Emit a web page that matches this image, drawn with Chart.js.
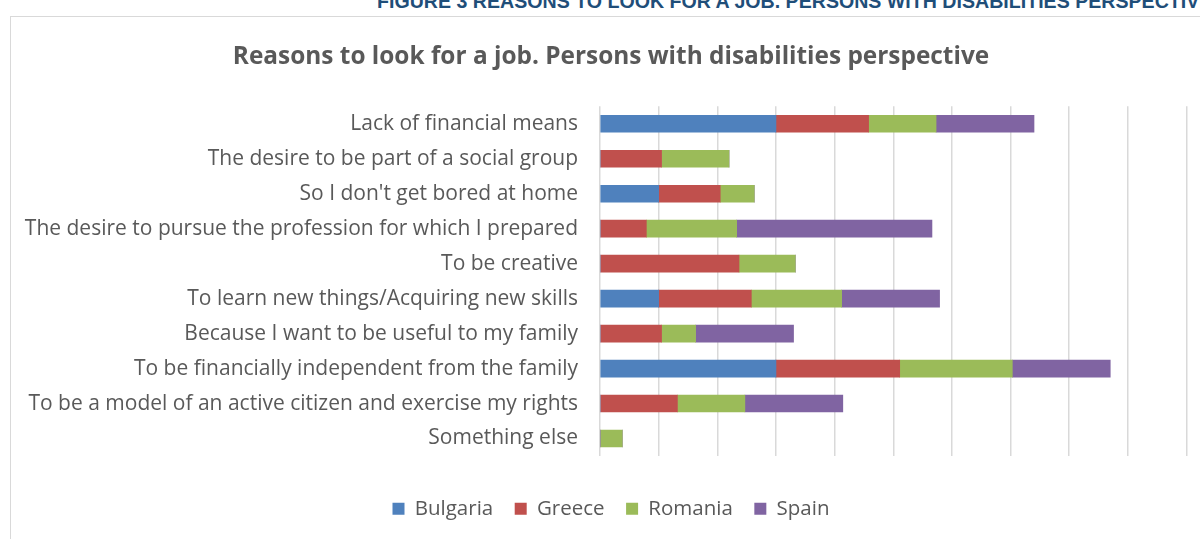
<!DOCTYPE html>
<html>
<head>
<meta charset="utf-8">
<script src="https://cdn.jsdelivr.net/npm/chart.js@4/dist/chart.umd.min.js"></script>
<style>
  html, body { margin: 0; padding: 0; background: #ffffff; overflow: hidden; }
  body { width: 1200px; height: 539px; position: relative; }
  #fig { position: absolute; left: 377px; top: -10px; font-family: "Liberation Sans", Arial, sans-serif; font-weight: bold; font-size: 19.6px; color: #1F4E79; white-space: nowrap; }
  #box { position: absolute; left: 10px; top: 16px; width: 1210px; height: 540px; border: 1.5px solid #d9d9d9; box-sizing: border-box; }
  #wrap { position: absolute; left: 0; top: 0; width: 1224px; height: 539px; }
</style>
</head>
<body>
<div id="fig">FIGURE 3 REASONS TO LOOK FOR A JOB. PERSONS WITH DISABILITIES PERSPECTIVE</div>
<div id="box"></div>
<div id="wrap"><canvas id="c"></canvas></div>
<script>
const titleText = "Reasons to look for a job. Persons with disabilities perspective";
const categories = [
  "Lack of financial means",
  "The desire to be part of a social group",
  "So I don't get bored at home",
  "The desire to pursue the profession for which I prepared",
  "To be creative",
  "To learn new things/Acquiring new skills",
  "Because I want to be useful to my family",
  "To be financially independent from the family",
  "To be a model of an active citizen and exercise my rights",
  "Something else"
];
const seriesNames = ["Bulgaria", "Greece", "Romania", "Spain"];
const bulgaria = [30, 0, 10, 0, 0, 10, 0, 30, 0, 0];
const greece   = [15.8, 10.5, 10.5, 7.9, 23.7, 15.8, 10.5, 21.1, 13.2, 0];
const romania  = [11.5, 11.5, 5.8, 15.4, 9.6, 15.4, 5.8, 19.2, 11.5, 3.8];
const spain    = [16.7, 0, 0, 33.3, 0, 16.7, 16.7, 16.7, 16.7, 0];
const colors = ["#4F81BD", "#C0504D", "#9BBB59", "#8064A2"];
const seriesValues = [bulgaria, greece, romania, spain];

const datasets = seriesNames.map((name, i) => ({
  label: name,
  data: seriesValues[i],
  backgroundColor: colors[i],
  borderWidth: 0,
  barThickness: 17
}));

// widen the y-label clip area to the canvas edge so long labels are not cut
const unclipLabels = {
  id: 'unclipLabels',
  afterLayout(chart) { chart.scales.y.left = 0; }
};

new Chart(document.getElementById('c'), {
  type: 'bar',
  data: { labels: categories, datasets: datasets },
  plugins: [unclipLabels],
  options: {
    indexAxis: 'y',
    responsive: true,
    maintainAspectRatio: false,
    animation: false,
    layout: { padding: { left: 35.5, right: 37.5, top: 42, bottom: 10 } },
    scales: {
      x: {
        stacked: true,
        min: 0, max: 100,
        ticks: { display: false, stepSize: 10 },
        grid: { color: '#d9d9d9', lineWidth: 1.5, drawTicks: false },
        border: { display: false },
        afterFit: (scale) => { scale.height = 21; }
      },
      y: {
        stacked: true,
        grid: { display: false, drawTicks: false },
        border: { display: false },
        ticks: { color: '#595959', font: { family: 'Open Sans', size: 21 }, padding: 22 },
        afterFit: (scale) => { scale.width = 564.5; }
      }
    },
    plugins: {
      title: {
        display: true,
        text: titleText,
        color: '#595959',
        font: { family: 'Open Sans', size: 24.4, weight: 'bold' },
        padding: { top: 0, bottom: 35 }
      },
      legend: {
        position: 'bottom',
        labels: {
          color: '#595959',
          font: { family: 'Open Sans', size: 20.5 },
          boxWidth: 12, boxHeight: 12,
          padding: 21.5
        }
      },
      tooltip: { enabled: false }
    }
  }
});
</script>
</body>
</html>
